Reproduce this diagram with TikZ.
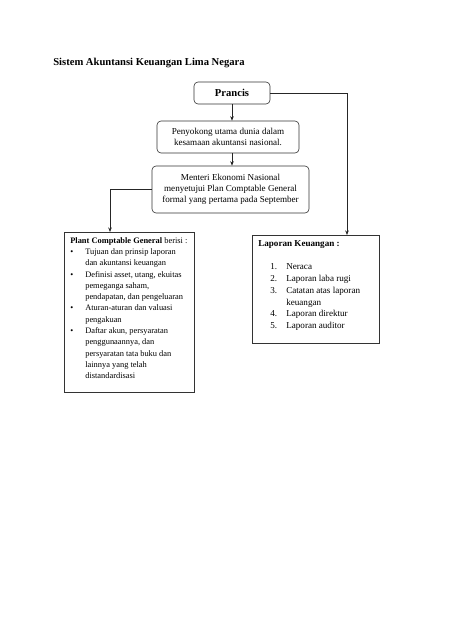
\documentclass[tikz,border=0pt]{standalone}
\usepackage{fontspec}
\setmainfont{Liberation Serif}
\usetikzlibrary{arrows.meta}
\begin{document}
\begin{tikzpicture}[x=1pt,y=-1pt,
  line width=0.6pt,
  rbox/.style={draw=black!80, rounded corners=4pt, inner sep=0pt, align=center,
     font=\fontsize{9.1}{11.3}\selectfont},
  sbox/.style={draw=black!80, inner sep=0pt},
  txt/.style={inner sep=0pt, align=left, anchor=north west},
  conn/.style={draw=black!85, -{Stealth[length=4.5pt,width=3.5pt]}}
]
\useasboundingbox[fill=white] (0,0) rectangle (452,640);

\node[inner sep=0pt, anchor=base west, font=\fontsize{10.6}{12}\selectfont\bfseries] (title) at (53,65) {Sistem Akuntansi Keuangan Lima Negara};

\node[rbox, minimum width=76pt, minimum height=22pt, font=\fontsize{10.6}{12}\selectfont\bfseries] (prancis) at (232,93) {Prancis};

\node[rbox, minimum width=142pt, minimum height=32pt] (penyokong) at (228,137)
  {Penyokong utama dunia dalam\\kesamaan akuntansi nasional.};

\node[rbox, minimum width=157pt, minimum height=47pt] (menteri) at (230.5,189.5)
  {Menteri Ekonomi Nasional\\menyetujui Plan Comptable General\\formal yang pertama pada September};

\node[sbox, minimum width=130pt, minimum height=160pt] (plant) at (129,312) {};
\node[sbox, minimum width=127pt, minimum height=108pt] (laporan) at (315.5,289) {};

\node[txt, font=\fontsize{8.4}{11.3}\selectfont] (planttext) at (70,237) {%
\textbf{Plant Comptable General} berisi :\\
\makebox[15pt][l]{\textbullet}Tujuan dan prinsip laporan\\
\hspace*{15pt}dan akuntansi keuangan\\
\makebox[15pt][l]{\textbullet}Definisi asset, utang, ekuitas\\
\hspace*{15pt}pemeganga saham,\\
\hspace*{15pt}pendapatan, dan pengeluaran\\
\makebox[15pt][l]{\textbullet}Aturan-aturan dan valuasi\\
\hspace*{15pt}pengakuan\\
\makebox[15pt][l]{\textbullet}Daftar akun, persyaratan\\
\hspace*{15pt}penggunaannya, dan\\
\hspace*{15pt}persyaratan tata buku dan\\
\hspace*{15pt}lainnya yang telah\\
\hspace*{15pt}distandardisasi};

\node[txt, font=\fontsize{9.1}{11.7}\selectfont] (laptext) at (258,240) {%
\textbf{Laporan Keuangan :}\\[12pt]
\hspace*{12pt}\makebox[16pt][l]{1.}Neraca\\
\hspace*{12pt}\makebox[16pt][l]{2.}Laporan laba rugi\\
\hspace*{12pt}\makebox[16pt][l]{3.}Catatan atas laporan\\
\hspace*{28pt}keuangan\\
\hspace*{12pt}\makebox[16pt][l]{4.}Laporan direktur\\
\hspace*{12pt}\makebox[16pt][l]{5.}Laporan auditor};

\coordinate (rtop) at (347,235);
\coordinate (ltop) at (110,232);

\draw[conn] (prancis.east) -| (rtop);
\draw[conn] (prancis.south) -- (prancis.south |- penyokong.north);
\draw[conn] (prancis.south |- penyokong.south) -- (prancis.south |- menteri.north);
\draw[conn] (menteri.west) -| (ltop);
\end{tikzpicture}
\end{document}
